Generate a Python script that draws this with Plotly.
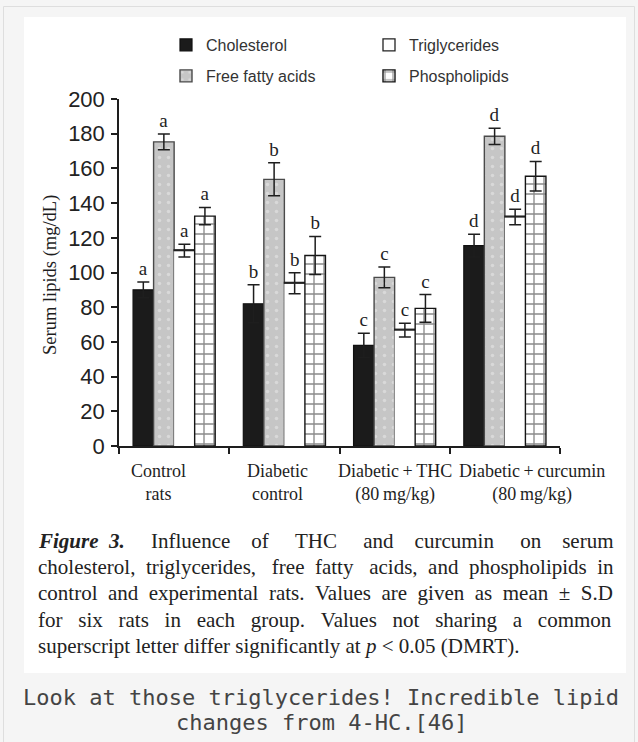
import plotly.graph_objects as go

# ---- data -------------------------------------------------------------
groups = ["Control rats", "Diabetic control",
          "Diabetic + THC (80 mg/kg)", "Diabetic + curcumin (80 mg/kg)"]
group_ticktext = ["Control<br>rats", "Diabetic<br>control",
                  "Diabetic\u2009+\u2009THC<br>(80\u2009mg/kg)",
                  "Diabetic\u2009+\u2009curcumin<br>(80\u2009mg/kg)"]
letters = ["a", "b", "c", "d"]

cholesterol = [90.0, 82.0, 58.0, 115.5]
cholesterol_sd = [4.5, 11.0, 7.0, 6.5]
free_fatty_acids = [175.3, 153.7, 97.2, 178.5]
free_fatty_acids_sd = [4.5, 9.5, 6.0, 4.7]
triglycerides = [112.6, 93.8, 66.8, 132.0]
triglycerides_sd = [3.7, 6.0, 4.0, 4.5]
phospholipids = [132.5, 109.8, 79.3, 155.5]
phospholipids_sd = [5.0, 11.0, 8.0, 8.5]

y_ticks = [0, 20, 40, 60, 80, 100, 120, 140, 160, 180, 200]

# ---- page geometry (pixels) ------------------------------------------
W, H = 638, 742
L, R, T, B = 119, 560, 99, 446


def px(x):
    return (x - L) / (R - L)


def py(y):
    return (B - y) / (B - T)


INK = "#1e1e1e"
SERIF = "Liberation Serif"
SANS = "Liberation Sans"

err_style = dict(type="data", visible=True, color=INK, thickness=1.5, width=6)

fig = go.Figure()

fig.add_trace(go.Bar(
    x=groups, y=cholesterol, name="Cholesterol", offsetgroup="chol",
    marker=dict(color="#1b1b1b", line=dict(color="#111", width=1.2)),
    error_y=dict(array=cholesterol_sd, **err_style),
    legend="legend", legendrank=1,
))
fig.add_trace(go.Bar(
    x=groups, y=free_fatty_acids, name="Free fatty acids", offsetgroup="ffa",
    marker=dict(color="#c6c6c6", line=dict(color="#4a4a4a", width=1.4),
                pattern=dict(shape=".", fgcolor="#ececec", bgcolor="#c6c6c6",
                             size=9, solidity=0.12)),
    error_y=dict(array=free_fatty_acids_sd, **err_style),
    legend="legend2", legendrank=1,
))
# triglyceride bars: white body without side outlines ...
fig.add_trace(go.Bar(
    x=groups, y=triglycerides, name="Triglycerides", offsetgroup="tg",
    marker=dict(color="white", line=dict(width=0)),
    error_y=dict(array=triglycerides_sd, **err_style),
    showlegend=False,
))
# ... closed by a thin top edge at the mean value
fig.add_trace(go.Bar(
    x=groups, y=[0.5] * len(groups), base=triglycerides, name="Triglycerides",
    offsetgroup="tg",
    marker=dict(color="white", line=dict(color="#222", width=1.3)),
    legend="legend", legendrank=2,
))
fig.add_trace(go.Bar(
    x=groups, y=phospholipids, name="Phospholipids", offsetgroup="pl",
    marker=dict(color="white", line=dict(color="#151515", width=1.4),
                pattern=dict(shape="+", fgcolor="#151515", bgcolor="white",
                             size=10, solidity=0.25)),
    error_y=dict(array=phospholipids_sd, **err_style),
    legend="legend2", legendrank=2,
))

# significance letters just above each error bar
series = [("chol", cholesterol, cholesterol_sd),
          ("ffa", free_fatty_acids, free_fatty_acids_sd),
          ("tg", triglycerides, triglycerides_sd),
          ("pl", phospholipids, phospholipids_sd)]
for og, vals, sds in series:
    fig.add_trace(go.Bar(
        x=groups, y=[v + s for v, s in zip(vals, sds)], offsetgroup=og,
        marker=dict(color="rgba(0,0,0,0)", line=dict(width=0)),
        text=letters, textposition="outside", constraintext="none",
        textfont=dict(family=SERIF, size=19, color=INK),
        cliponaxis=False, showlegend=False, hoverinfo="skip",
    ))

legend_common = dict(
    orientation="h", xanchor="left", yanchor="middle",
    entrywidth=158, entrywidthmode="pixels",
    font=dict(family=SANS, size=16, color="#333"),
    bgcolor="rgba(0,0,0,0)", borderwidth=0, itemclick=False,
)

annotations = []
# group labels under the axis
label_shift = [-16, -7, 0, 27]
for g, txt, dx in zip(groups, group_ticktext, label_shift):
    annotations.append(dict(
        x=g, xref="x", y=py(459), yref="paper", yanchor="top", xanchor="center",
        xshift=dx, text=txt, showarrow=False, align="center",
        font=dict(family=SERIF, size=18, color=INK),
    ))
# y-axis title
annotations.append(dict(
    x=px(50), xref="paper", y=py(275), yref="paper", text="Serum lipids (mg/dL)",
    textangle=-90, showarrow=False, xanchor="center", yanchor="middle",
    font=dict(family=SERIF, size=18.5, color=INK),
))

# figure caption (justified with non-breaking spaces)
NB = "\u00a0"
caption_lines = [
    (["<b><i>Figure</i></b>", "<b><i>3.</i></b>", "Influence", "of", "THC", "and",
      "curcumin", "on", "serum"], [2, 5, 4, 5, 5, 4, 5, 4]),
    (["cholesterol,", "triglycerides,", "free", "fatty", "acids,", "and",
      "phospholipids", "in"], [2, 3, 2, 3, 2, 2, 2]),
    (["control", "and", "experimental", "rats.", "Values", "are", "given", "as",
      "mean", "±", "S.D"], [2] * 10),
    (["for", "six", "rats", "in", "each", "group.", "Values", "not", "sharing",
      "a", "common"], [3] * 10),
    (["superscript", "letter", "differ", "significantly", "at", "<i>p</i>", "<",
      "0.05", "(DMRT)."], [1] * 8),
]
for i, (words, gaps) in enumerate(caption_lines):
    line = words[0]
    for w, g in zip(words[1:], gaps):
        line += NB * g + w
    annotations.append(dict(
        x=px(36), xref="paper", y=py(541 + 26.2 * i), yref="paper",
        xanchor="left", yanchor="middle", text=line, showarrow=False,
        font=dict(family=SERIF, size=21, color="#222"),
    ))

# note under the figure
for i, line in enumerate(["Look at those triglycerides! Incredible lipid",
                          "changes from 4-HC.[46]"]):
    annotations.append(dict(
        x=px(321), xref="paper", y=py(697 + 25.5 * i), yref="paper",
        xanchor="center", yanchor="middle", text=line, showarrow=False,
        font=dict(family="DejaVu Sans Mono", size=22, color="#444"),
    ))

shapes = [
    dict(type="rect", xref="paper", yref="paper", x0=px(3.5), x1=px(634.5),
         y0=py(6.5), y1=py(760), line=dict(color="#dedede", width=1),
         fillcolor="rgba(0,0,0,0)", layer="below"),
    dict(type="rect", xref="paper", yref="paper", x0=px(24), x1=px(626),
         y0=py(17), y1=py(673), line=dict(width=0), fillcolor="white",
         layer="below"),
]

fig.update_layout(
    width=W, height=H,
    margin=dict(l=L, r=W - R, t=T, b=H - B, pad=0),
    paper_bgcolor="#f5f5f5", plot_bgcolor="white",
    barmode="group", bargap=0.255, bargroupgap=0,
    showlegend=True,
    xaxis=dict(type="category", categoryorder="array", categoryarray=groups,
               range=[-0.5, len(groups) - 0.5],
               showline=True, linecolor=INK, linewidth=1.5, ticks="outside",
               tickson="boundaries", ticklen=6, tickwidth=1.5, tickcolor=INK,
               showticklabels=False, showgrid=False, zeroline=False,
               fixedrange=True),
    yaxis=dict(range=[0, 200], tickvals=y_ticks, showline=True, linecolor=INK,
               linewidth=1.5, ticks="outside", ticklen=6, tickwidth=1.5,
               tickcolor=INK, showgrid=False, zeroline=False,
               ticklabelstandoff=2,
               tickfont=dict(family=SANS, size=22, color="#222"),
               fixedrange=True),
    legend=dict(x=px(166), y=py(45), **legend_common),
    legend2=dict(x=px(166), y=py(76), **legend_common),
    annotations=annotations,
    shapes=shapes,
)

fig.write_html("out.html", config={"displayModeBar": False})
